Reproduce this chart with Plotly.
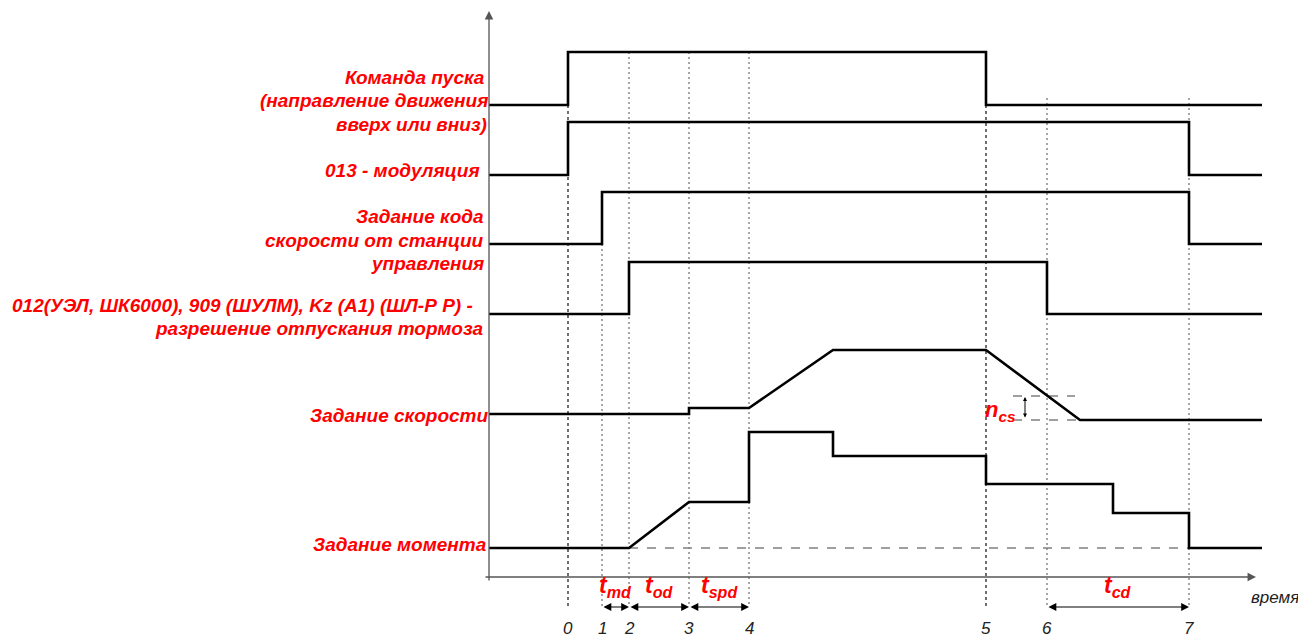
"""Timing diagram: start command, modulation, speed code, brake release,
speed and torque references over time (events 0..7)."""

import plotly.graph_objects as go

RED = "#FF0000"
INK = "#000000"
AXIS = "#555555"
FONT = "Liberation Sans, Arial, sans-serif"

# the page body has an 8px margin, so the plot area starts at 8 px
PAGE_OFF = 8

# time axis (event instants on the horizontal scale)
EVENT_T = [568, 602, 629, 689, 749, 986, 1047, 1189]
EVENT_LABELS = ["0", "1", "2", "3", "4", "5", "6", "7"]
GUIDE_TOP = [105, 244, 52, 52, 52, 105, 98, 98]
GUIDE_BOTTOM = [608, 608, 606, 606, 606, 608, 606, 606]
GUIDE_DASH = ["3px,3px", "2px,3px", "2px,3px", "2px,3px", "2px,3px", "3px,3px", "2px,3px", "2px,3px"]
GUIDE_COLOR = ["#222222", "#777777", "#777777", "#777777", "#777777", "#222222", "#777777", "#777777"]
T_START = 489
T_END = 1262

# step signals (hv shape): breakpoints and levels
CMD_T = [T_START, 568, 986, T_END]
CMD_Y = [105, 52, 105, 105]
MOD_T = [T_START, 568, 1189, T_END]
MOD_Y = [175, 122, 175, 175]
CODE_T = [T_START, 602, 1189, T_END]
CODE_Y = [244, 192, 244, 244]
BRAKE_T = [T_START, 629, 1047, T_END]
BRAKE_Y = [314, 262, 314, 314]

# speed reference (linear segments)
SPEED_T = [T_START, 689, 689, 749, 833, 986, 1080, T_END]
SPEED_Y = [414, 414, 408, 408, 350, 350, 420, 420]

# torque reference
TORQUE_T = [T_START, 629, 689, 749, 749, 833, 833, 986, 986, 1113, 1113, 1189, 1189, T_END]
TORQUE_Y = [548, 548, 502, 502, 432, 432, 456, 456, 484, 484, 513, 513, 548, 548]

# signal names on the left
LABEL_LINES = [
    ("Команда пуска", 77, 487),
    ("(направление движения", 100, 490),
    ("вверх или вниз)", 124, 489),
    ("013 - модуляция ", 170, 487),
    ("Задание кода", 216, 486),
    ("скорости от станции", 240, 486),
    ("управления", 263, 486),
    ("012(УЭЛ, ШК6000), 909 (ШУЛМ), Kz (А1) (ШЛ-Р Р) -", 305, 475),
    ("разрешение отпускания тормоза", 328, 486),
    ("Задание скорости", 415, 490),
    ("Задание момента", 544, 489),
]

# interval arrows under the time axis
INTERVALS = [(602, 629, "md"), (629, 689, "od"), (689, 749, "spd"), (1047, 1189, "cd")]
INTERVAL_Y = 607

fig = go.Figure()

for t, y in [(CMD_T, CMD_Y), (MOD_T, MOD_Y), (CODE_T, CODE_Y), (BRAKE_T, BRAKE_Y)]:
    fig.add_trace(go.Scatter(x=t, y=y, mode="lines",
                             line=dict(color=INK, width=2.6, shape="hv")))

fig.add_trace(go.Scatter(x=SPEED_T, y=SPEED_Y, mode="lines",
                         line=dict(color=INK, width=2.6)))
fig.add_trace(go.Scatter(x=TORQUE_T, y=TORQUE_Y, mode="lines",
                         line=dict(color=INK, width=2.6)))

# vertical guides at each event
for t, top, bot, dash, col in zip(EVENT_T, GUIDE_TOP, GUIDE_BOTTOM, GUIDE_DASH, GUIDE_COLOR):
    fig.add_shape(type="line", x0=t, x1=t, y0=top, y1=bot, layer="below",
                  line=dict(color=col, width=1.3, dash=dash))

# torque zero reference and n_cs band
fig.add_shape(type="line", x0=629, x1=1189, y0=548, y1=548, layer="below",
              line=dict(color="#808080", width=1.5, dash="dash"))
fig.add_shape(type="line", x0=1013, x1=1075, y0=396, y1=396, layer="below",
              line=dict(color="#808080", width=1.5, dash="dash"))
fig.add_shape(type="line", x0=1013, x1=1080, y0=420, y1=420, layer="below",
              line=dict(color="#808080", width=1.5, dash="dash"))
fig.add_annotation(x=1025, y=397, ax=1025, ay=419, xref="x", yref="y",
                   axref="x", ayref="y", text="", showarrow=True,
                   arrowhead=2, arrowside="end+start", arrowsize=0.8,
                   arrowwidth=1, arrowcolor=INK)
fig.add_annotation(x=1018, y=411, text="<b><i>n</i></b><sub><b><i>cs</i></b></sub>",
                   showarrow=False, xanchor="right", yanchor="middle",
                   font=dict(family=FONT, size=22, color=RED))

# axes with arrows
fig.add_annotation(x=1256, y=577, ax=484, ay=577, xref="x", yref="y",
                   axref="x", ayref="y", text="", showarrow=True,
                   arrowhead=2, arrowsize=1.3, arrowwidth=1.3, arrowcolor=AXIS)
fig.add_annotation(x=489, y=11, ax=489, ay=582, xref="x", yref="y",
                   axref="x", ayref="y", text="", showarrow=True,
                   arrowhead=2, arrowsize=1.3, arrowwidth=1.3, arrowcolor=AXIS)

# interval arrows and their names
for a, b, sub in INTERVALS:
    fig.add_annotation(x=b, y=INTERVAL_Y, ax=a, ay=INTERVAL_Y, xref="x", yref="y",
                       axref="x", ayref="y", text="", showarrow=True,
                       arrowhead=2, arrowside="end+start", arrowsize=1.3,
                       arrowwidth=1.2, arrowcolor=INK)
    fig.add_annotation(x=(a + b) / 2, y=INTERVAL_Y - 4,
                       text="<b><i>t</i></b><sub><b><i>%s</i></b></sub>" % sub,
                       showarrow=False, xanchor="center", yanchor="bottom",
                       font=dict(family=FONT, size=23, color=RED))

# event numbers
for t, lab in zip(EVENT_T, EVENT_LABELS):
    fig.add_annotation(x=t, y=628, text="<i>%s</i>" % lab, showarrow=False,
                       xanchor="center", yanchor="middle",
                       font=dict(family=FONT, size=17, color="#222222"))
fig.add_annotation(x=1301, y=597, text="<i>время</i>", showarrow=False,
                   xanchor="right", yanchor="middle",
                   font=dict(family=FONT, size=17, color="#222222"))

for text, y, right in LABEL_LINES:
    fig.add_annotation(x=right, y=y, text="<b><i>%s</i></b>" % text, showarrow=False,
                       xanchor="right", yanchor="middle",
                       font=dict(family=FONT, size=19, color=RED))

fig.update_layout(
    width=1306 - PAGE_OFF, height=638 - PAGE_OFF,
    margin=dict(l=0, r=0, t=0, b=0),
    plot_bgcolor="white", paper_bgcolor="white",
    showlegend=False,
    xaxis=dict(range=[PAGE_OFF, 1306], visible=False, fixedrange=True),
    yaxis=dict(range=[638, PAGE_OFF], visible=False, fixedrange=True),
)

fig.write_html("out.html")
